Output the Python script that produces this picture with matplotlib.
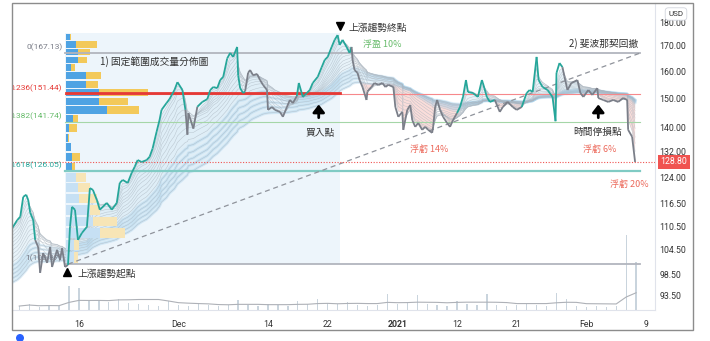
import numpy as np
import pandas as pd
import matplotlib
matplotlib.use('Agg')
import matplotlib.pyplot as plt
from matplotlib.collections import LineCollection
from matplotlib.patches import Rectangle, Ellipse
from matplotlib.ticker import FixedLocator, NullLocator, NullFormatter

plt.rcParams['font.family'] = ['Roboto', 'Noto Sans CJK TC', 'DejaVu Sans']

# 交易日序號 (0 = 11/16) 與收盤價
day = [-6.7, -6.2, -5.9, -5.6, -5.3, -5.1, -4.9, -4.6, -4.4,
       -4.1, -3.9, -3.6, -3.2, -2.9, -2.7, -2.2, -1.9, -1.7, -1.4, -1.1,
       -0.9, -0.7, -0.4, -0.1, 0.3, 0.8, 1.1, 1.4, 1.8, 2.1, 2.8, 3.3, 3.8, 4.1, 4.4, 4.9,
       5.3, 5.6, 5.9, 6.3, 6.8, 7.1, 7.4, 7.8, 8.1, 8.3, 8.8, 9.1, 9.6, 9.9, 10.4, 10.7,
       10.9, 11.0, 11.5, 11.9,
       12.4, 12.9, 13.2, 13.5, 13.9, 14.2, 14.5, 14.9, 15.2, 15.5, 15.9, 16.0, 16.2, 16.5, 16.7,
       17.0, 17.2, 17.5, 17.9, 18.2, 18.5, 18.9, 19.0, 19.4, 19.7, 20.2, 20.5, 20.9, 21.2, 21.5, 21.9,
       22.1, 22.5, 22.9, 23.2, 23.5, 24.0, 24.4, 24.7, 25.0, 25.4, 25.7, 26.0, 26.2, 26.5, 26.9, 27.2, 27.4,
       27.5, 27.7, 28.0, 28.2, 28.5, 28.9, 29.0, 29.4, 29.7, 30.1, 30.5, 30.8, 31.1, 31.6, 31.8, 32.1,
       32.5, 32.6, 33.0, 33.3, 33.5, 33.8, 34.1, 34.5, 34.8, 35.1, 35.5, 35.6, 35.8, 36.0, 36.3, 36.6,
       37.0, 37.3, 37.6, 38.0,
       38.3, 38.6, 38.9, 39.1, 39.6, 40.1, 40.5, 40.6, 41.0, 41.3, 41.8,
       42.3, 42.6, 43.1, 43.6, 44.0, 44.5,
       45.0, 45.3, 45.6, 46.0, 46.2, 46.6, 47.1, 47.6, 47.9, 48.0, 48.3, 48.6,
       48.8, 49.1, 49.5, 50.1, 50.4, 50.7, 51.2, 51.6, 52.1, 52.2, 52.7, 53.2, 53.7, 54.2, 54.7,
       55.1, 55.2, 55.6, 55.9]
price = [110.0, 112.1, 113.0, 118.5, 119.1, 117.6, 114.1, 112.1, 106.9,
         105.1, 98.8, 103.6, 101.2, 105.1, 100.2, 104.4, 101.9, 104.8, 100.2, 100.7,
         110.3, 115.7, 114.9, 106.9, 108.7, 110.3, 121.0, 120.5, 117.6, 114.9, 116.8, 114.9, 116.8, 122.5, 123.4, 122.5,
         125.5, 127.3, 129.4, 128.8, 129.4, 130.4, 133.0, 138.4, 142.4, 145.9, 148.3, 149.7, 153.0, 155.9, 153.0, 145.9,
         137.5, 144.8, 139.5, 147.0,
         148.7, 149.7, 153.0, 154.1, 153.7, 156.7, 157.9, 165.0, 167.2, 165.6, 169.6, 158.5, 153.7, 151.9, 152.5,
         159.4, 160.5, 158.5, 159.0, 156.7, 154.9, 153.0, 145.9, 146.9, 145.9, 145.2, 143.5, 146.9, 149.4, 148.3, 150.8,
         155.6, 150.5, 151.9, 153.0, 155.6, 157.9, 161.6, 164.4, 165.6, 169.6, 172.5, 174.5, 170.4, 172.5, 169.6, 167.2, 169.6,
         164.4, 160.5, 159.4, 156.7, 154.1, 149.4, 152.5, 154.1, 155.6, 154.9, 155.6, 154.1, 154.9, 154.1, 146.9, 143.5,
         145.2, 139.1, 145.9, 147.6, 142.4, 140.1, 141.4, 139.1, 140.1, 139.1, 138.1, 140.1, 146.9, 149.4, 145.9, 143.5,
         141.4, 140.1, 142.4, 144.8,
         146.9, 150.5, 156.7, 152.3, 151.9, 150.5, 156.7, 155.6, 150.5, 148.7, 149.4,
         145.2, 146.9, 148.7, 146.9, 145.9, 146.9,
         151.9, 153.0, 152.3, 165.6, 156.7, 154.1, 153.0, 150.5, 142.0, 159.4, 163.2, 161.6,
         157.9, 153.0, 155.6, 156.7, 151.9, 150.5, 153.0, 151.2, 153.7, 150.1, 149.4, 148.7, 149.4, 148.7, 150.1,
         149.4, 139.1, 136.8, 128.8]
# 上漲(綠色)K線的區段
teal_spans = [(-7.0, -4.4), (-1.1, 10.7), (11.9, 16.7), (21.9, 27.4), (38.0, 41.8), (44.5, 48.6)]

# 每日成交量 (相對值)
vol_day = list(range(-6, 57))
vol = [4, 6, 3, 5, 4, 24, 22, 9, 10, 8, 11, 7, 6, 5, 4, 9, 5, 4, 6, 5, 4, 5, 10, 5, 4, 6,
       5, 4, 9, 6, 11, 7, 6, 8, 5, 4, 5, 16, 6, 7, 15, 6, 5, 4, 9, 6, 5, 16, 5, 4, 5, 6,
       5, 4, 17, 11, 4, 3, 4, 3, 4, 76, 48]

# 固定範圍成交量分佈 (由上而下, 上漲量 / 下跌量)
vp_high, vp_low = 175.3, 100.9
vp_up = [4, 10.5, 12.5, 12.5, 5.5, 20.5, 20.5, 32.5, 32.5, 40.5, 7.5, 3.5,
         2.5, 5.5, 6.5, 6.5, 10, 12, 13.5, 23.5, 27, 33.5, 8, 8]
vp_dn = [1, 20, 11, 9, 4, 14, 11, 48, 29, 31, 5, 8,
         0.5, 0, 8, 3, 10, 12, 17, 10, 23, 25, 5, 4]
vp_va_low = 125.7
vp_x0, vp_x1 = -1.35, 26.2

# 斐波那契回撤
fib_level = ['0', '0.236', '0.382', '0.618', '1']
fib_price = [167.13, 151.44, 141.74, 126.05, 100.87]
fib_line_c = ['#b2b5be', '#f7888b', '#a5d6a7', '#80cbc4', '#b2b5be']
fib_text_c = ['#787b86', '#e53935', '#66bb6a', '#26a69a', '#787b86']
fib_lw = [1.3, 0.8, 0.8, 1.6, 1.3]
fib_x0, fib_x1 = -1.4, 56.4
last_price = 128.80

ema_len = [2, 3, 4, 6, 8, 10, 12, 15, 18, 21, 25, 29, 34, 39, 44, 50]
ema_seed = (110.0, 96.0)

tick_day = [0, 10, 19, 25, 32, 38, 44, 51, 57]
tick_lab = ['16', 'Dec', '14', '22', '2021', '12', '21', 'Feb', '9']
ytick = [93.5, 98.5, 104.5, 110.5, 116.5, 124, 132, 140, 150, 160, 170, 180]

W, H = 710, 341
fig = plt.figure(figsize=(W / 100, H / 100), dpi=100)
ax = fig.add_axes([12 / W, 1 - 310 / H, 643 / W, 307 / H])
ax.set_yscale('log')

# 成交量 (底部)
axv = ax.twinx()
axv.bar(vol_day, vol, width=0.13, color='#c9d4dd', zorder=1)
axv.plot(vol_day, pd.Series(vol).rolling(10, min_periods=1).mean(), color='#aeb1b7', lw=0.8)
axv.set_ylim(0, 310)
axv.set_yticks([])
for s in axv.spines.values():
    s.set_visible(False)
ax.set_zorder(axv.get_zorder() + 1)
ax.patch.set_visible(False)

# 成交量分佈背景
ax.add_patch(Rectangle((fib_x0, fib_price[-1]), vp_x1 - fib_x0, vp_high - fib_price[-1],
                       fc='#edf5fb', ec='none', zorder=0))

# 均線帶
seeds = np.linspace(ema_seed[0], ema_seed[1], len(ema_len))
emas = []
for n, s in zip(ema_len, seeds):
    a = 2 / (n + 1)
    v = s
    out = []
    for p in price:
        v = v + a * (p - v)
        out.append(v)
    emas.append(np.array(out))
fast, slow = emas[0], emas[-1]
ax.fill_between(day, fast, slow, where=fast >= slow, interpolate=True, color='#d3e8f5', alpha=0.5, lw=0, zorder=1)
ax.fill_between(day, fast, slow, where=fast < slow, interpolate=True, color='#f7c2bc', alpha=0.55, lw=0, zorder=1)
for e in emas:
    ax.plot(day, e, color='#aab5bf', lw=0.35, alpha=0.75, zorder=1.5)
for e in emas[-5:]:
    ax.plot(day, e, color='#9fcdea', lw=2.0, alpha=0.35, zorder=1.4)

# 成交量分佈
edges = np.linspace(vp_high, vp_low, len(vp_up) + 1)
scale = 0.3 * (vp_x1 - vp_x0) / max(u + d for u, d in zip(vp_up, vp_dn))
for i, (u, d) in enumerate(zip(vp_up, vp_dn)):
    lo, hi = edges[i + 1], edges[i]
    inside = lo >= vp_va_low - 0.01
    cu = '#4fa3e3' if inside else '#c6e0f4'
    cd = '#f3c95a' if inside else '#f7e5b6'
    ax.add_patch(Rectangle((vp_x0, lo + 0.25), u * scale, hi - lo - 0.5, fc=cu, ec='none', zorder=2))
    ax.add_patch(Rectangle((vp_x0 + u * scale, lo + 0.25), d * scale, hi - lo - 0.5, fc=cd, ec='none', zorder=2))
poc = int(np.argmax([u + d for u, d in zip(vp_up, vp_dn)]))
poc_price = (edges[poc] + edges[poc + 1]) / 2
ax.plot([vp_x0, vp_x1], [poc_price, poc_price], color='#e53935', lw=2.0, zorder=3)

# 斐波那契線
for lvl, p, lc, tc, lw in zip(fib_level, fib_price, fib_line_c, fib_text_c, fib_lw):
    ax.plot([fib_x0, fib_x1], [p, p], color=lc, lw=lw, zorder=2.5)
    ax.annotate(f'{lvl}({p:.2f})', xy=(fib_x0, p), xytext=(-2, 1.5), textcoords='offset points',
                ha='right', va='bottom', fontsize=6, color=tc, clip_on=True, zorder=6)
ax.plot([-1.1, fib_x1], [fib_price[-1], fib_price[0]], color='#8f939b', lw=0.9, ls=(0, (4, 3)), zorder=3)
ax.axhline(last_price, color='#f05350', lw=0.8, ls=(0, (1, 1.5)), zorder=3)

# K線 (以收盤價連線表示)
pts = np.column_stack([day, price])
segs = np.stack([pts[:-1], pts[1:]], axis=1)
mids = (np.array(day[:-1]) + np.array(day[1:])) / 2
cols = ['#26a69a' if any(a <= m <= b for a, b in teal_spans) else '#7b7f89' for m in mids]
ax.add_collection(LineCollection(segs, colors=cols, linewidths=1.3, zorder=5))

# 標註
cjk = ['Noto Sans CJK TC', 'DejaVu Sans']
ax.text(2.1, 163.6, '1) 固定範圍成交量分佈圖', fontsize=7, color='#333333', va='center', family=cjk, zorder=7)
ax.plot(26.2, 178.3, marker='v', ms=6, color='black', zorder=7)
ax.text(27.1, 177.6, '上漲趨勢終點', fontsize=7, color='#333333', va='center', family=cjk, zorder=7)
ax.text(28.5, 170.8, '浮盈 10%', fontsize=6.5, color='#66bb6a', va='center', family=cjk, zorder=7)
ax.plot(-1.2, 98.9, marker='^', ms=6, color='black', zorder=7)
ax.text(-0.1, 98.6, '上漲趨勢起點', fontsize=7, color='#333333', va='center', family=cjk, zorder=7)
ax.text(24.2, 138.1, '買入點', fontsize=7, color='#333333', va='center', ha='center', family=cjk, zorder=7)
ax.text(33.3, 132.8, '浮虧 14%', fontsize=6.5, color='#ec6a5c', va='center', family=cjk, zorder=7)
ax.text(56.2, 170.8, '2) 斐波那契回撤', fontsize=7, color='#333333', va='center', ha='right', family=cjk, zorder=7)
ax.text(52.1, 138.4, '時間停損點', fontsize=7, color='#333333', va='center', ha='center', family=cjk, zorder=7)
ax.text(50.7, 132.8, '浮虧 6%', fontsize=6.5, color='#ec6a5c', va='center', family=cjk, zorder=7)
ax.text(53.4, 122.2, '浮虧 20%', fontsize=6.5, color='#ec6a5c', va='center', family=cjk, zorder=7)
for x in (24.1, 52.2):
    ax.annotate('', xy=(x, 147.8), xytext=(x, 143.2),
                arrowprops=dict(arrowstyle='-|>,head_length=0.45,head_width=0.35', lw=2.0,
                                color='black', mutation_scale=10, shrinkA=0, shrinkB=0), zorder=7)

# 座標軸
ax.set_xlim(-6.73, 57.9)
ax.set_ylim(90.4, 188.4)
ax.set_xticks(tick_day)
ax.set_xticklabels(tick_lab, fontsize=6.3, color='#333333')
for t in ax.get_xticklabels():
    if t.get_text() == '2021':
        t.set_fontweight('bold')
ax.yaxis.tick_right()
ax.yaxis.set_major_locator(FixedLocator(ytick))
ax.yaxis.set_minor_locator(NullLocator())
ax.yaxis.set_minor_formatter(NullFormatter())
ax.set_yticklabels([f'{v:.2f}' for v in ytick], fontsize=6.3, color='#333333')
ax.tick_params(axis='both', length=0)
ax.tick_params(axis='x', pad=7)
ax.tick_params(axis='y', pad=3)
for k in ('left', 'top'):
    ax.spines[k].set_visible(False)
for k in ('right', 'bottom'):
    ax.spines[k].set_color('#e0e3eb')
    ax.spines[k].set_linewidth(0.8)

# 最新價標籤
ax.text(1.0296, last_price, f'{last_price:.2f}', transform=ax.get_yaxis_transform(), ha='center', va='center',
        fontsize=6.3, color='white', zorder=8, clip_on=False,
        bbox=dict(boxstyle='square,pad=0.25', fc='#f05350', ec='none'))

# 外框與 USD
fig.patches.append(Rectangle((12 / W, 1 - 330 / H), 681 / W, 327 / H, transform=fig.transFigure,
                             fill=False, ec='#8c8c8c', lw=1.0))
fig.text(676 / W, 1 - 14 / H, 'USD', fontsize=5.8, color='#333333', ha='center', va='center', zorder=10,
         bbox=dict(boxstyle='round,pad=0.4', fc='white', ec='#d1d4dc', lw=0.6))
fig.patches.append(Ellipse((20 / W, 1 - 338 / H), 8 / W, 8 / H, transform=fig.transFigure,
                           fc='#2962ff', ec='none'))

fig.savefig('out.png', dpi=100)
